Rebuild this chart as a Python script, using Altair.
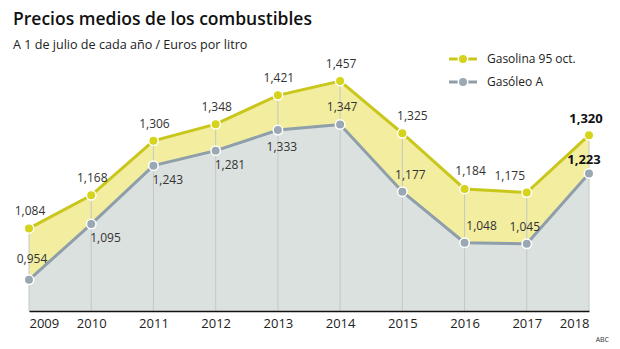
import altair as alt
import pandas as pd

years = [2009, 2010, 2011, 2012, 2013, 2014, 2015, 2016, 2017, 2018]
gasolina = [1.084, 1.168, 1.306, 1.348, 1.421, 1.457, 1.325, 1.184, 1.175, 1.320]
gasoleo = [0.954, 1.095, 1.243, 1.281, 1.333, 1.347, 1.177, 1.048, 1.045, 1.223]

title_txt = "Precios medios de los combustibles"
subtitle_txt = "A 1 de julio de cada año / Euros por litro"
legend_names = ["Gasolina 95 oct.", "Gasóleo A"]
source_txt = "ABC"

Y_LINE = "#c9c61c"
Y_PT = "#d5d31a"
Y_AREA = "#f2ed9f"
G_LINE = "#8e9eaa"
G_PT = "#9aa8b3"
G_AREA = "#dbe1de"
FONT = "Open Sans"

df = pd.DataFrame({"year": years, "gasolina": gasolina, "gasoleo": gasoleo})
df["lab_gasolina"] = [f"{v:.3f}".replace(".", ",") for v in gasolina]
df["lab_gasoleo"] = [f"{v:.3f}".replace(".", ",") for v in gasoleo]

W, H = 560, 270
ymin = 0.875
ymax = ymin + H / 395.0
df["base"] = ymin

x = alt.X("year:Q", scale=alt.Scale(domain=[2009, 2018], nice=False),
          axis=alt.Axis(values=years, format="d", title=None, grid=False, ticks=False,
                        labelFontSize=13, labelFont=FONT, labelColor="#222",
                        labelPadding=6, domainColor="#111", domainWidth=1.3, zindex=2))
yscale = alt.Scale(domain=[ymin, ymax], nice=False, zero=False)

base = alt.Chart(df)

area_g = base.mark_area(color=G_AREA, opacity=1, clip=True).encode(
    x=x, y=alt.Y("gasoleo:Q", scale=yscale, axis=None), y2="base:Q")
area_y = base.mark_area(color=Y_AREA, opacity=1).encode(
    x="year:Q", y=alt.Y("gasolina:Q", scale=yscale), y2="gasoleo:Q")
rules = base.mark_rule(color="#c4c8c8", strokeWidth=1).encode(
    x="year:Q", y=alt.Y("gasolina:Q", scale=yscale), y2="base:Q")
line_y = base.mark_line(color=Y_LINE, strokeWidth=3).encode(
    x="year:Q", y=alt.Y("gasolina:Q", scale=yscale))
line_g = base.mark_line(color=G_LINE, strokeWidth=3).encode(
    x="year:Q", y=alt.Y("gasoleo:Q", scale=yscale))
pts_y = base.mark_point(filled=True, fill=Y_PT, stroke="white", strokeWidth=1.5,
                        size=90, opacity=1).encode(
    x="year:Q", y=alt.Y("gasolina:Q", scale=yscale))
pts_g = base.mark_point(filled=True, fill=G_PT, stroke="white", strokeWidth=1.5,
                        size=90, opacity=1).encode(
    x="year:Q", y=alt.Y("gasoleo:Q", scale=yscale))


def labels(field, yrs, dx, dy, align="center", bold=False):
    return base.transform_filter(
        alt.FieldOneOfPredicate(field="year", oneOf=yrs)
    ).mark_text(font=FONT, fontSize=13 if bold else 12,
                fontWeight="bold" if bold else "normal",
                color="#111" if bold else "#333", dx=dx, dy=dy, align=align,
                baseline="middle").encode(
        x="year:Q", y=alt.Y(field + ":Q", scale=yscale), text="lab_" + field + ":N")


lab = [
    labels("gasolina", [2009, 2010, 2011, 2012, 2013, 2014], 1, -17),
    labels("gasolina", [2015], 10, -17),
    labels("gasolina", [2016], 6, -18),
    labels("gasolina", [2017], -17, -17),
    labels("gasolina", [2018], -3, -16, bold=True),
    labels("gasoleo", [2009], 3, -21),
    labels("gasoleo", [2010, 2011, 2012], -1, 14, align="left"),
    labels("gasoleo", [2013], 4, 17),
    labels("gasoleo", [2014], 2, -18),
    labels("gasoleo", [2015], 8, -17),
    labels("gasoleo", [2016], 17, -17),
    labels("gasoleo", [2017], -2, -17),
    labels("gasoleo", [2018], -5, -14, bold=True),
]


def one(txt):
    return alt.Chart(pd.DataFrame({"t": [txt]}))


title = one(title_txt).mark_text(font=FONT, fontSize=17.5, fontWeight=600, color="#111",
                                 align="left", baseline="middle").encode(
    text="t:N", x=alt.value(-16), y=alt.value(-21))
subtitle = one(subtitle_txt).mark_text(font=FONT, fontSize=12.6, color="#222",
                                       align="left", baseline="middle").encode(
    text="t:N", x=alt.value(-16), y=alt.value(4))
source = one(source_txt).mark_text(font=FONT, fontSize=7, color="#333",
                                   align="right", baseline="middle").encode(
    text="t:N", x=alt.value(580), y=alt.value(299))

leg = []
for i, (nm, lc, pc) in enumerate(zip(legend_names, [Y_LINE, G_LINE], [Y_PT, G_PT])):
    yy = 18 + 23 * i
    leg.append(one(nm).mark_rule(color=lc, strokeWidth=3).encode(
        x=alt.value(420), x2=alt.value(448), y=alt.value(yy)))
    leg.append(one(nm).mark_point(filled=True, fill=pc, stroke="white", strokeWidth=1.5,
                                  size=90, opacity=1).encode(
        x=alt.value(434), y=alt.value(yy)))
    leg.append(one(nm).mark_text(font=FONT, fontSize=12, color="#222", align="left",
                                 baseline="middle").encode(
        text="t:N", x=alt.value(458), y=alt.value(yy)))

chart = alt.layer(area_g, area_y, rules, line_g, line_y, pts_g, pts_y, *lab,
                  title, subtitle, source, *leg).properties(
    width=W, height=H,
    autosize=alt.AutoSizeParams(type="none"),
    padding={"left": 29, "top": 41, "right": 31, "bottom": 38},
    background="white",
).configure_view(stroke=None)

chart.save("out.html", embed_options={"renderer": "svg", "actions": False})
